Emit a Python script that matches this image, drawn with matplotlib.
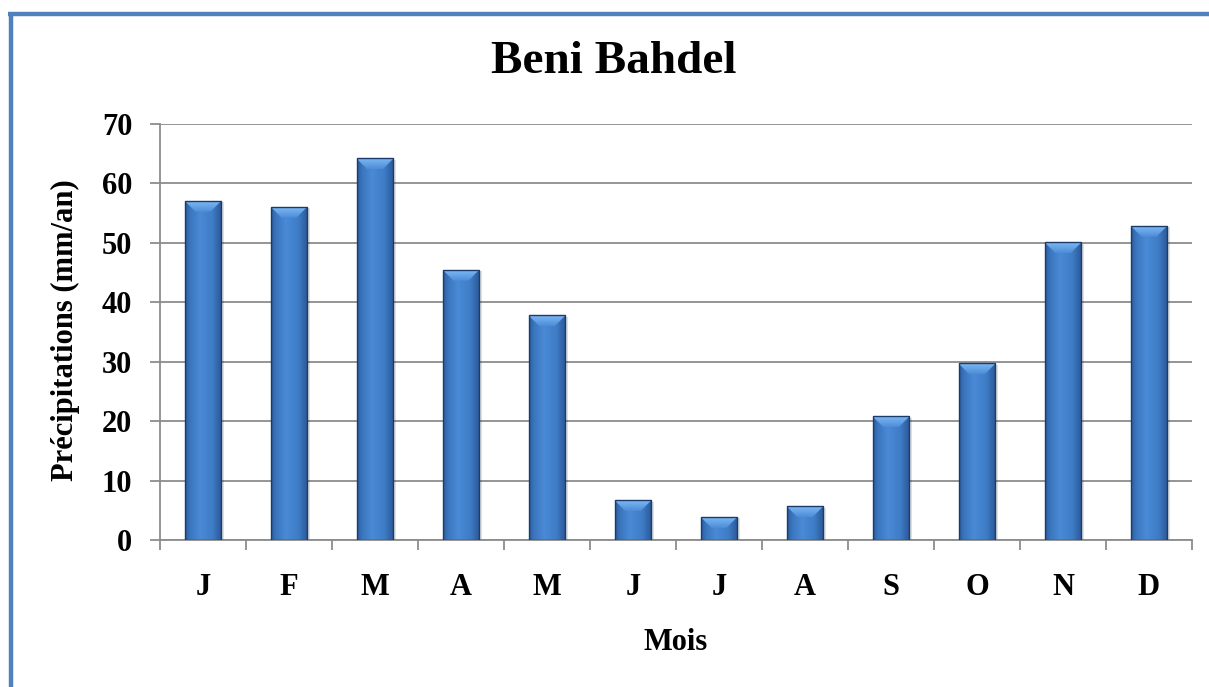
import numpy as np
import matplotlib
matplotlib.use("Agg")
import matplotlib.pyplot as plt
from matplotlib.patches import Polygon, Rectangle
from matplotlib.colors import LinearSegmentedColormap
from matplotlib.lines import Line2D
import matplotlib.transforms as mtransforms

# ---- data ----
months = ["J", "F", "M", "A", "M", "J", "J", "A", "S", "O", "N", "D"]
precip = [57.1, 56.1, 64.2, 45.5, 37.8, 6.7, 3.9, 5.7, 20.8, 29.7, 50.1, 52.9]
yticks = [0, 10, 20, 30, 40, 50, 60, 70]
title = "Beni Bahdel"
ylabel = "Précipitations (mm/an)"
xlabel = "Mois"

W, H, DPI = 1209, 687, 100
plt.rcParams['font.family'] = ['Liberation Serif', 'DejaVu Serif']
fig = plt.figure(figsize=(W / DPI, H / DPI), dpi=DPI)
fig.patch.set_facecolor('white')

ax = fig.add_axes([160 / W, 1 - 540 / H, (1192 - 160) / W, (540 - 124) / H])
x = np.arange(len(months))
bars = ax.bar(x, precip, width=0.43, color='none', edgecolor='#1d3b6a',
              linewidth=1.0, zorder=4)
ax.set_xlim(-0.5, len(months) - 0.5)
ax.set_ylim(0, 70)

grid_c = '#8c8c8c'
ax.set_yticks(yticks)
ax.set_yticklabels([str(v) for v in yticks], fontsize=22, fontweight='bold')
ax.yaxis.grid(True, color=grid_c, linewidth=1.3, zorder=0)
ax.set_axisbelow(True)
ax.tick_params(axis='y', length=7, width=1.3, color=grid_c, pad=13)

ax.set_xticks(np.arange(-0.5, len(months), 1.0))
ax.set_xticklabels([])
ax.set_xticks(x, minor=True)
ax.set_xticklabels(months, minor=True, fontsize=22, fontweight='bold')
ax.tick_params(axis='x', which='major', length=7, width=1.3, color=grid_c,
               direction='out')
ax.tick_params(axis='x', which='minor', length=0, pad=24)

for s in ['top', 'right']:
    ax.spines[s].set_visible(False)
for s in ['left', 'bottom']:
    ax.spines[s].set_color(grid_c)
    ax.spines[s].set_linewidth(1.3)

# ---- bar styling: horizontal gradient + top bevel + shadow ----
cmap = LinearSegmentedColormap.from_list(
    'barg', [(0.0, '#2b5c9c'), (0.12, '#3a74bd'), (0.4, '#4a8ad6'),
             (0.75, '#3f7cc6'), (1.0, '#2a5896')])
grad = np.linspace(0, 1, 64).reshape(1, -1)
bev_cmap = LinearSegmentedColormap.from_list('bev', ['#4e8cd8', '#7cb9f4'])
bev_grad = np.linspace(0, 1, 32).reshape(-1, 1)
fig.canvas.draw()
for b in bars:
    x0, y0 = b.get_x(), b.get_y()
    w, h = b.get_width(), b.get_height()
    # shadow
    sh = Rectangle((x0, y0), w, h, facecolor='#000000', alpha=0.12,
                   edgecolor='none', zorder=2,
                   transform=ax.transData + mtransforms.ScaledTranslation(
                       2.5 / DPI, -1.5 / DPI, fig.dpi_scale_trans))
    ax.add_patch(sh)
    im = ax.imshow(grad, cmap=cmap, aspect='auto',
                   extent=(x0, x0 + w, y0, y0 + h), zorder=3,
                   interpolation='bicubic')
    im.set_clip_path(b)
    # bevel in display coords
    (dx0, dy0), (dx1, dy1) = ax.transData.transform([(x0, y0), (x0 + w, y0 + h)])
    d = min(11.0, (dy1 - dy0) * 0.5)
    bevel = Polygon([(dx0, dy1), (dx1, dy1), (dx1 - d, dy1 - d), (dx0 + d, dy1 - d)],
                    closed=True, transform=None, facecolor='none',
                    edgecolor='none', zorder=3.5)
    ax.add_patch(bevel)
    bx0, by0 = ax.transData.inverted().transform((dx0, dy1 - d))
    bim = ax.imshow(bev_grad, cmap=bev_cmap, aspect='auto', origin='lower',
                    extent=(x0, x0 + w, by0, y0 + h), zorder=3.5,
                    interpolation='bicubic')
    bim.set_clip_path(bevel)

# ---- texts ----
fig.text(614 / W, 1 - 62 / H, title, ha='center', va='center',
         fontsize=34, fontweight='bold')
fig.text(65 / W, 1 - 330 / H, ylabel, ha='center', va='center',
         rotation=90, fontsize=22, fontweight='bold')
fig.text(676 / W, 1 - 643 / H, xlabel, ha='center', va='center',
         fontsize=22, fontweight='bold')

# ---- frame (left + top) ----
bc = '#4f81bd'
fig.add_artist(Line2D([10.5 / W, 10.5 / W], [0, 1 - 12 / H], color=bc,
                      linewidth=3.2, transform=fig.transFigure,
                      solid_capstyle='butt'))
fig.add_artist(Line2D([8.2 / W, 1], [1 - 13.8 / H, 1 - 13.8 / H], color=bc,
                      linewidth=3.2, transform=fig.transFigure,
                      solid_capstyle='butt'))

fig.savefig('out.png', dpi=DPI, facecolor='white')
